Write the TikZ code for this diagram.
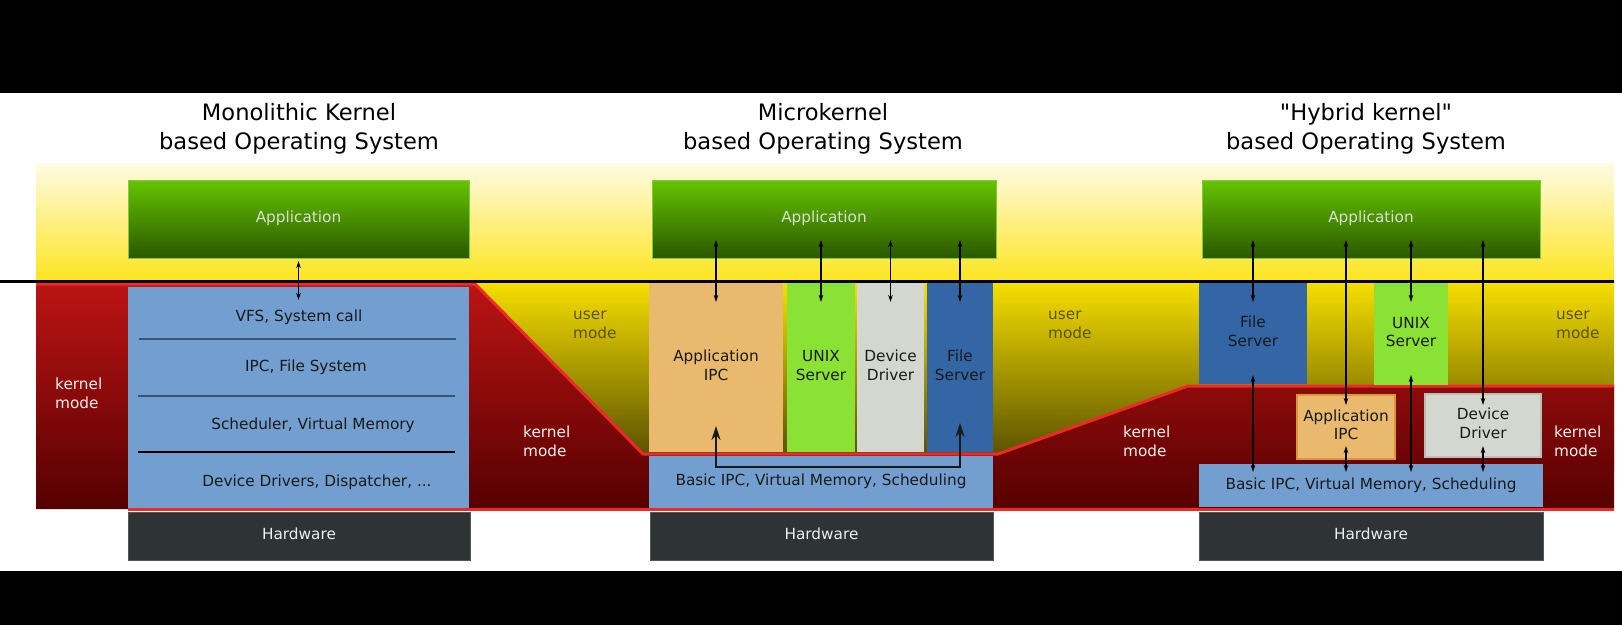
\documentclass[tikz,border=0pt]{standalone}
\usepackage{fontspec}
\setmainfont{DejaVu Sans}[Ligatures=TeXOff]
\usetikzlibrary{calc,arrows.meta}
\definecolor{redtop}{HTML}{BC1414}
\definecolor{redbot}{HTML}{560000}
\definecolor{redline}{HTML}{EF2929}
\definecolor{ytop}{HTML}{FFFBE4}
\definecolor{ymid}{HTML}{FDE51E}
\definecolor{ylow}{HTML}{F8E000}
\definecolor{ydark}{HTML}{4E4600}
\definecolor{apptop}{HTML}{66C400}
\definecolor{appbot}{HTML}{2A5800}
\definecolor{appedge}{HTML}{7FCC40}
\definecolor{apptext}{HTML}{D8E0CC}
\definecolor{kblue}{HTML}{729FCF}
\definecolor{korange}{HTML}{E9B96E}
\definecolor{ipcedge}{HTML}{D9963C}
\definecolor{kgreen}{HTML}{8AE234}
\definecolor{kgray}{HTML}{D3D7CF}
\definecolor{drvedge}{HTML}{BABDB6}
\definecolor{fsblue}{HTML}{3465A4}
\definecolor{hwcol}{HTML}{2E3436}
\definecolor{hwedge}{HTML}{555753}
\definecolor{lighttext}{HTML}{EEEEEC}
\definecolor{usertext}{HTML}{5C5300}
\definecolor{txtdark}{HTML}{1A1A1A}
\definecolor{sepcol}{HTML}{3A5472}
\newcommand{\bodyfont}{\fontsize{15.3}{18.5}\selectfont}
\newcommand{\ostitlefont}{\fontsize{22.6}{30}\selectfont}
\newcommand{\twoline}[2]{#1\strut\\#2\strut}
\begin{document}
\begin{tikzpicture}[x=1pt,y=-1pt,
  box/.style={inner sep=0pt, outer sep=0pt, anchor=north west, align=center, font=\bodyfont, text=txtdark},
  appbox/.style={box, top color=apptop, bottom color=appbot, draw=appedge, line width=0.8pt, text=apptext, minimum height=78pt},
  kbox/.style={box, fill=kblue},
  hwbox/.style={box, fill=hwcol, draw=hwedge, line width=0.8pt, text=lighttext, minimum height=48pt},
  ipcbox/.style={box, fill=korange},
  unixbox/.style={box, fill=kgreen},
  drvbox/.style={box, fill=kgray},
  fsbox/.style={box, fill=fsblue},
  modelabel/.style={inner sep=0pt, anchor=west, align=left, font=\bodyfont},
  usermode/.style={modelabel, text=usertext},
  kernelmode/.style={modelabel, text=lighttext},
  ostitle/.style={inner sep=0pt, anchor=base, font=\ostitlefont, text=black},
  layertext/.style={inner sep=0pt, anchor=base, font=\bodyfont, text=txtdark},
  arr/.style={{Stealth[length=7pt,width=4.5pt]}-{Stealth[length=7pt,width=4.5pt]}, line width=1.2pt, black},
  bigarr/.style={{Stealth[length=14pt,width=9pt]}-{Stealth[length=14pt,width=9pt]}, line width=1.4pt, txtdark},
  rededge/.style={draw=redline, line width=3pt, line join=round},
  sepline/.style={line width=2pt}
]
\useasboundingbox (0,0) rectangle (1622,625);
% background
\fill[white] (0,0) rectangle (1622,625);
\fill[black] (0,0) rectangle (1622,93);
\fill[black] (0,571) rectangle (1622,625);
\shade[top color=ytop, bottom color=ymid] (36,163) rectangle (1614,281);
\shade[top color=ylow, bottom color=ydark] (36,281) rectangle (1614,470);
% kernel-mode region
\shade[top color=redtop, bottom color=redbot] (36,284) -- (475,284) -- (643,454) -- (998,454) -- (1188,386) -- (1614,386) -- (1614,509) -- (36,509) -- cycle;
\draw[rededge] (36,284) -- (475,284) -- (643,454) -- (998,454) -- (1188,386) -- (1614,386);
\draw[rededge] (128,509) -- (1614,509);
% user/kernel boundary
\draw[black, line width=3pt] (0,281) -- (1614,281);

% titles
\node[ostitle] (tM1) at (299,120) {Monolithic Kernel};
\node[ostitle] (tM2) at (299,149) {based Operating System};
\node[ostitle] (tU1) at (823,120) {Microkernel};
\node[ostitle] (tU2) at (823,149) {based Operating System};
\node[ostitle] (tH1) at (1366,120) {"Hybrid kernel"};
\node[ostitle] (tH2) at (1366,149) {based Operating System};

% monolithic
\node[appbox, minimum width=341pt] (appM) at (128,180) {Application\strut};
\node[kbox, minimum width=341pt, minimum height=221pt] (kernM) at (128,287) {};
\node[hwbox, minimum width=342pt] (hwM) at (128,512) {Hardware\strut};
\draw[sepline, sepcol] (139,339) -- (456,339);
\draw[sepline, sepcol] (138,396) -- (455,396);
\draw[sepline, black] (138,452) -- (455,452);
\node[layertext] (l1) at (299,321) {VFS, System call};
\node[layertext] (l2) at (306,371) {IPC, File System};
\node[layertext] (l3) at (313,429.5) {Scheduler, Virtual Memory};
\node[layertext] (l4) at (317,486) {Device Drivers, Dispatcher, ...};

% microkernel
\node[appbox, minimum width=344pt] (appU) at (652,180) {Application\strut};
\node[ipcbox, minimum width=134pt, minimum height=169pt] (ipcU) at (649,283) {\twoline{Application}{IPC}};
\node[unixbox, minimum width=68pt, minimum height=169pt] (unixU) at (787,283) {\twoline{UNIX}{Server}};
\node[drvbox, minimum width=67pt, minimum height=169pt] (drvU) at (857,283) {\twoline{Device}{Driver}};
\node[fsbox, minimum width=66pt, minimum height=169pt] (fsU) at (927,283) {\twoline{File}{Server}};
\node[kbox, minimum width=344pt, minimum height=52pt] (baseU) at (649,456) {Basic IPC, Virtual Memory, Scheduling\strut};
\node[hwbox, minimum width=343pt] (hwU) at (650,512) {Hardware\strut};

% hybrid
\node[appbox, minimum width=338pt] (appH) at (1202,180) {Application\strut};
\node[fsbox, minimum width=108pt, minimum height=101pt] (fsH) at (1199,283) {\twoline{File}{Server}};
\node[unixbox, minimum width=74pt, minimum height=102pt] (unixH) at (1374,283) {\twoline{UNIX}{Server}};
\node[ipcbox, draw=ipcedge, line width=1.5pt, minimum width=98pt, minimum height=64pt] (ipcH) at (1297,395) {\twoline{Application}{IPC}};
\node[drvbox, draw=drvedge, line width=1.5pt, minimum width=116pt, minimum height=63pt] (drvH) at (1425,394) {\twoline{Device}{Driver}};
\node[kbox, minimum width=344pt, minimum height=43pt] (baseH) at (1199,464) {Basic IPC, Virtual Memory, Scheduling\strut};
\node[hwbox, minimum width=344pt] (hwH) at (1199,512) {Hardware\strut};

% mode labels
\node[kernelmode] (kmL) at (55,395.5) {\twoline{kernel}{mode}};
\node[usermode] (umU1) at (573,325.5) {\twoline{user}{mode}};
\node[kernelmode] (kmU1) at (523,443.5) {\twoline{kernel}{mode}};
\node[usermode] (umU2) at (1048,325.5) {\twoline{user}{mode}};
\node[kernelmode] (kmU2) at (1123,443.5) {\twoline{kernel}{mode}};
\node[usermode] (umH) at (1556,325.5) {\twoline{user}{mode}};
\node[kernelmode] (kmH) at (1554,443.5) {\twoline{kernel}{mode}};

% arrows: monolithic
\draw[arr] ($(appM.south)+(0,3)$) -- ($(kernM.north)+(0,13)$);
% arrows: microkernel
\draw[arr] ($(appU.south -| ipcU.north)+(0,-18)$) -- ($(ipcU.north)+(0,19)$);
\draw[arr] ($(appU.south -| unixU.north)+(0,-18)$) -- ($(unixU.north)+(0,19)$);
\draw[arr] ($(appU.south -| drvU.north)+(0,-18)$) -- ($(drvU.north)+(0,19)$);
\draw[arr] ($(appU.south -| fsU.north)+(0,-18)$) -- ($(fsU.north)+(0,19)$);
\draw[bigarr] ($(ipcU.south)+(0,-26)$) -- ($(ipcU.south |- baseU.north)+(0,11)$) -- ($(fsU.south |- baseU.north)+(0,11)$) -- ($(fsU.south)+(0,-29)$);
% arrows: hybrid
\draw[arr] ($(appH.south -| fsH.north)+(0,-18)$) -- ($(fsH.north)+(0,19)$);
\draw[arr] ($(appH.south -| ipcH.north)+(0,-18)$) -- ($(ipcH.north)+(0,10)$);
\draw[arr] ($(appH.south -| unixH.north)+(0,-18)$) -- ($(unixH.north)+(0,19)$);
\draw[arr] ($(appH.south -| drvH.north)+(0,-18)$) -- ($(drvH.north)+(0,11)$);
\draw[arr] ($(fsH.south)+(0,-9)$) -- ($(fsH.south |- baseH.north)+(0,8)$);
\draw[arr] ($(ipcH.south)+(0,-13)$) -- ($(ipcH.south |- baseH.north)+(0,8)$);
\draw[arr] ($(unixH.south)+(0,-10)$) -- ($(unixH.south |- baseH.north)+(0,8)$);
\draw[arr] ($(drvH.south)+(0,-11)$) -- ($(drvH.south |- baseH.north)+(0,8)$);
\end{tikzpicture}
\end{document}
